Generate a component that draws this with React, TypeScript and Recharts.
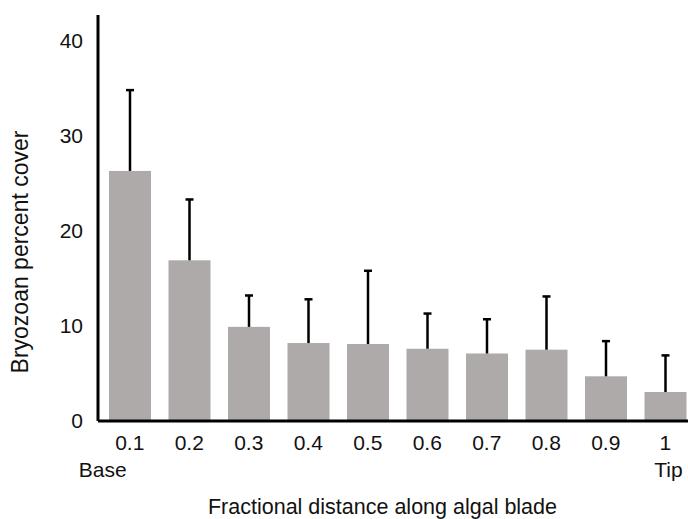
import React from "react";
import { BarChart, Bar, XAxis, YAxis, Label } from "recharts";

// distance along the blade (fraction), mean cover and upper SE
const positions = ["0.1", "0.2", "0.3", "0.4", "0.5", "0.6", "0.7", "0.8", "0.9", "1"];
const cover = [26.3, 16.9, 9.9, 8.2, 8.1, 7.6, 7.1, 7.5, 4.7, 3.05];
const coverErr = [8.5, 6.4, 3.3, 4.6, 7.7, 3.7, 3.6, 5.6, 3.7, 3.85];
const endNames: Record<string, string> = { "0.1": "Base", "1": "Tip" };
const yTicks = [0, 10, 20, 30, 40];

const data = positions.map((p, i) => ({ pos: p, cover: cover[i], err: coverErr[i] }));

const FONT = "'Liberation Sans', Arial, Helvetica, sans-serif";
const INK = "#111";

// bar plus a one-sided error whisker, scaled from the bar's own px/unit
const BarWithError = (props: any) => {
  const { x, y, width, height, payload, value } = props;
  const v = Array.isArray(value) ? value[1] : value;
  const pxPerUnit = v ? height / v : 0;
  const errPx = payload.err * pxPerUnit;
  const cx = x + width / 2;
  return (
    <g>
      <rect x={x} y={y} width={width} height={height} fill="#ADAAA9" />
      <line x1={cx} x2={cx} y1={y} y2={y - errPx} stroke="#000" strokeWidth={2.5} />
      <line x1={cx - 4} x2={cx + 4} y1={y - errPx} y2={y - errPx} stroke="#000" strokeWidth={2.5} />
    </g>
  );
};

const XTick = (props: any) => {
  const { x, y, payload } = props;
  const extra = endNames[payload.value];
  return (
    <g>
      <text x={x} y={y + 29} textAnchor="middle" fontSize={21} fill={INK} fontFamily={FONT}>
        {payload.value}
      </text>
      {extra && (
        <text
          x={extra === "Base" ? x - 51 : x - 11}
          y={y + 56}
          textAnchor="start"
          fontSize={21}
          fill={INK}
          fontFamily={FONT}
        >
          {extra}
        </text>
      )}
    </g>
  );
};

const YLabel = (props: any) => {
  const { viewBox } = props;
  const lx = 28;
  const ly = viewBox.y + viewBox.height / 2 + 34;
  return (
    <text
      x={lx}
      y={ly}
      transform={`rotate(-90, ${lx}, ${ly})`}
      textAnchor="middle"
      fontSize={23}
      fill={INK}
      fontFamily={FONT}
    >
      Bryozoan percent cover
    </text>
  );
};

export default function App() {
  return (
    <div
      style={{
        position: "absolute",
        left: 0,
        top: 0,
        width: 688,
        height: 519,
        overflow: "hidden",
        background: "#fff",
      }}
    >
      <BarChart
        width={700}
        height={519}
        data={data}
        margin={{ top: 15, right: 5, left: 0, bottom: 0 }}
      >
        <XAxis
          dataKey="pos"
          height={98}
          padding={{ left: 2, right: 0 }}
          tickLine={false}
          tickSize={0}
          tickMargin={0}
          interval={0}
          tick={<XTick />}
          axisLine={{ stroke: "#000", strokeWidth: 3 }}
        >
          <Label
            value="Fractional distance along algal blade"
            position="insideBottom"
            offset={5}
            dx={-14}
            style={{ fontSize: 21.5, fill: INK, fontFamily: FONT }}
          />
        </XAxis>
        <YAxis
          width={98}
          domain={[0, 42.7]}
          ticks={yTicks}
          tickLine={false}
          tickMargin={9}
          axisLine={{ stroke: "#000", strokeWidth: 3 }}
          tick={{ fontSize: 21, fill: INK, fontFamily: FONT }}
        >
          <Label content={<YLabel />} />
        </YAxis>
        <Bar dataKey="cover" barSize={42} shape={<BarWithError />} isAnimationActive={false} />
      </BarChart>
    </div>
  );
}
